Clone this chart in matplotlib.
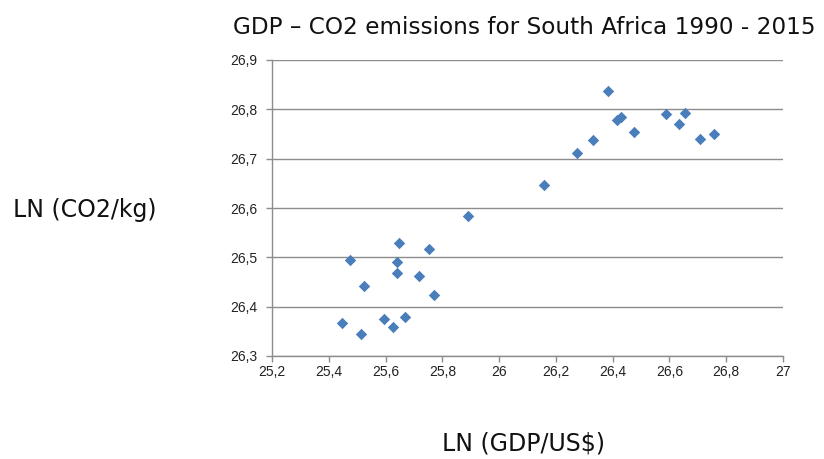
import matplotlib
matplotlib.use("Agg")
import matplotlib.pyplot as plt
from matplotlib.ticker import FuncFormatter, MultipleLocator

# LN(GDP / US$) and LN(CO2 / kg), South Africa 1990-2015
ln_gdp = [25.474, 25.649, 25.754, 25.892, 25.640, 25.640, 25.718, 25.523, 25.771,
          25.445, 25.513, 25.595, 25.626, 25.667,
          26.157, 26.275, 26.329, 26.382, 26.414, 26.429, 26.475, 26.589, 26.654,
          26.633, 26.706, 26.757]
ln_co2 = [26.494, 26.529, 26.517, 26.583, 26.490, 26.469, 26.462, 26.441, 26.424,
          26.366, 26.344, 26.375, 26.359, 26.380,
          26.646, 26.712, 26.737, 26.837, 26.779, 26.784, 26.755, 26.790, 26.793,
          26.770, 26.739, 26.751]

title = "GDP \u2013 CO2 emissions for South Africa 1990 - 2015"
xlabel = "LN (GDP/US$)"
ylabel = "LN (CO2/kg)"

W, H = 824, 459
fig = plt.figure(figsize=(W/100, H/100), dpi=100)
fig.patch.set_facecolor("white")
ax = fig.add_axes([272/W, 1-356/H, 511/W, 296/H])

ax.scatter(ln_gdp, ln_co2, marker="D", s=34, color="#4A7EBB", linewidths=0,
           zorder=3)

ax.set_xlim(25.2, 27.0)
ax.set_ylim(26.3, 26.9)
ax.xaxis.set_major_locator(MultipleLocator(0.2))
ax.yaxis.set_major_locator(MultipleLocator(0.1))

def comma(v, pos):
    s = f"{v:.1f}"
    if s.endswith(".0"):
        s = s[:-2]
    return s.replace(".", ",")

ax.xaxis.set_major_formatter(FuncFormatter(comma))
ax.yaxis.set_major_formatter(FuncFormatter(comma))

ax.yaxis.grid(True, color="#8C8C8C", linewidth=1.0)
ax.xaxis.grid(False)
ax.set_axisbelow(True)
for side in ["top", "right"]:
    ax.spines[side].set_visible(False)
for side in ["left", "bottom"]:
    ax.spines[side].set_color("#8C8C8C")
    ax.spines[side].set_linewidth(1.0)
ax.tick_params(axis="both", direction="out", length=4.3, width=1.0, color="#8C8C8C",
               labelsize=10, labelcolor="#222222")
ax.tick_params(axis="x", pad=2)
ax.tick_params(axis="y", pad=6.5)
for lbl in ax.get_xticklabels() + ax.get_yticklabels():
    lbl.set_fontfamily("Liberation Sans")

fig.text(233/W, 1-34/H, title, ha="left", va="baseline", fontsize=16.7,
         family="DejaVu Sans", color="#111111")
fig.text(13/W, 1-217/H, ylabel, ha="left", va="baseline", fontsize=17,
         family="DejaVu Sans", color="#111111")
fig.text(524/W, 1-451/H, xlabel, ha="center", va="baseline", fontsize=17,
         family="DejaVu Sans", color="#111111")

fig.savefig("out.png", dpi=100, facecolor="white")
